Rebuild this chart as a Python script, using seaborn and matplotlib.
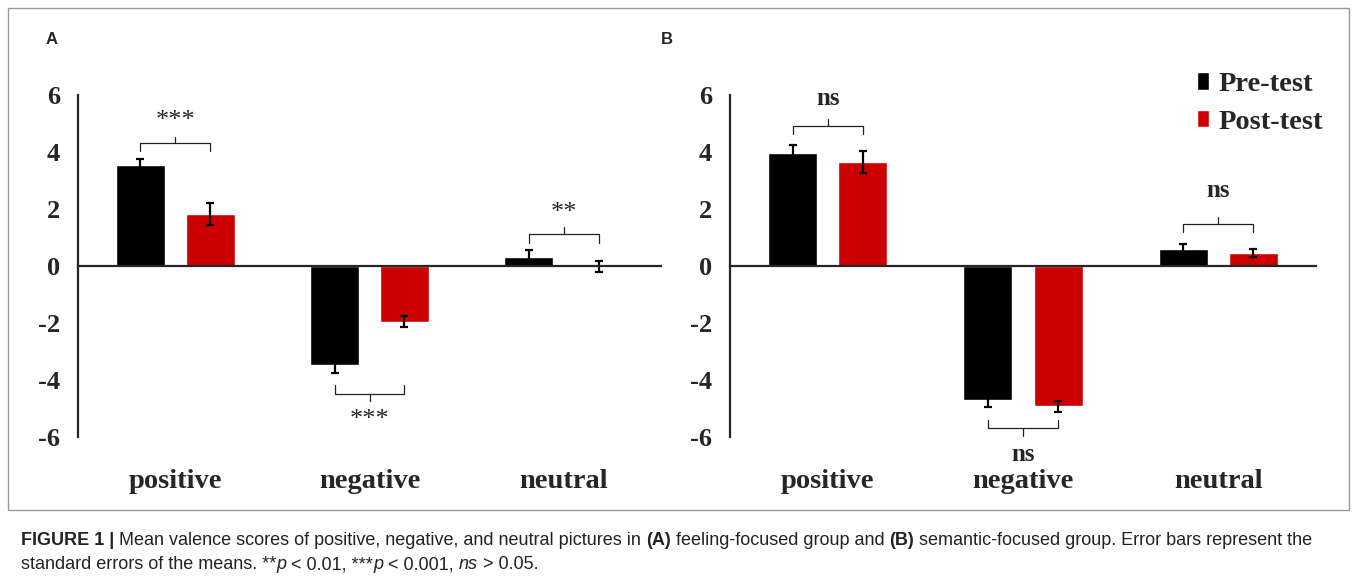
"""
Mean valence scores, pre/post test, two groups (feeling- vs semantic-focused)
"""
import pandas as pd
import matplotlib
matplotlib.use("Agg")
import matplotlib.pyplot as plt
from matplotlib.patches import Patch, Rectangle
import seaborn as sns

# Data
categories = ["positive", "negative", "neutral"]
phases = ["Pre-test", "Post-test"]
colors = ["#000000", "#cc0000"]

a_pre = [3.55, -3.48, 0.33]
a_post = [1.82, -1.96, -0.03]
a_pre_se = [0.22, 0.29, 0.23]
a_post_se = [0.38, 0.19, 0.19]

b_pre = [3.95, -4.71, 0.59]
b_post = [3.66, -4.92, 0.45]
b_pre_se = [0.29, 0.23, 0.17]
b_post_se = [0.38, 0.20, 0.15]

# significance brackets: (category index, bracket y, leg end y, tick end y, label y, label)
a_sig = [(0, 4.30, 4.04, 4.54, 5.10, "***"),
         (1, -4.48, -4.18, -4.75, -5.40, "***"),
         (2, 1.11, 0.82, 1.37, 1.87, "**")]
b_sig = [(0, 4.91, 4.63, 5.16, 5.86, "ns"),
         (1, -5.68, -5.39, -5.98, -6.62, "ns"),
         (2, 1.46, 1.20, 1.72, 2.64, "ns")]

W, H = 1357, 581
SERIF = "Liberation Serif"
SANS = "Liberation Sans"


def make_df(pre, post):
    rows = []
    for c, v in zip(categories, pre):
        rows.append({"cat": c, "phase": phases[0], "val": v})
    for c, v in zip(categories, post):
        rows.append({"cat": c, "phase": phases[1], "val": v})
    return pd.DataFrame(rows)


def draw_panel(ax, pre, post, pre_se, post_se, sig, sig_bold):
    df = make_df(pre, post)
    sns.barplot(data=df, x="cat", y="val", hue="phase", order=categories,
                hue_order=phases, palette=colors, width=0.72, gap=0.3,
                errorbar=None, legend=False, ax=ax, saturation=1, zorder=2)
    x_pre = [p.get_x() + p.get_width() / 2 for p in ax.containers[0]]
    x_post = [p.get_x() + p.get_width() / 2 for p in ax.containers[1]]
    ax.errorbar(x_pre, pre, yerr=pre_se, fmt="none", ecolor="black",
                elinewidth=1.6, capsize=3, capthick=1.6, zorder=3)
    ax.errorbar(x_post, post, yerr=post_se, fmt="none", ecolor="black",
                elinewidth=1.6, capsize=3, capthick=1.6, zorder=3)

    for i, yb, yleg, ytick, ylab, lab in sig:
        x0, x1 = x_pre[i], x_post[i]
        xm = (x0 + x1) / 2
        ax.plot([x0, x0, x1, x1], [yleg, yb, yb, yleg], color="#222222", lw=0.9, zorder=4)
        ax.plot([xm, xm], [yb, ytick], color="#222222", lw=0.9, zorder=4)
        ax.text(xm, ylab, lab, ha="center", va="center", family=SERIF,
                fontsize=18 if sig_bold else 19,
                fontweight="bold" if sig_bold else "normal", clip_on=False)

    ax.set_xlim(-0.5, 2.5)
    ax.set_ylim(-6, 6)
    ax.set_yticks([-6, -4, -2, 0, 2, 4, 6])
    ax.set_yticklabels(["-6", "-4", "-2", "0", "2", "4", "6"])
    ax.set_xticks([0.5, 1.5, 2.5])
    ax.set_xticklabels([])
    ax.set_xlabel("")
    ax.set_ylabel("")
    for lab in ax.get_yticklabels():
        lab.set_family(SERIF)
        lab.set_fontweight("bold")
        lab.set_fontsize(19)
    ax.tick_params(axis="y", direction="out", length=6, width=1.4, pad=7)
    ax.tick_params(axis="x", direction="out", length=7, width=1.4)
    ax.spines["top"].set_visible(False)
    ax.spines["right"].set_visible(False)
    ax.spines["bottom"].set_position(("data", 0))
    ax.spines["bottom"].set_linewidth(1.6)
    ax.spines["left"].set_linewidth(1.6)
    ax.spines["bottom"].set_zorder(5)
    for i, c in enumerate(categories):
        ax.text(i, -0.13, c, transform=ax.get_xaxis_transform(), ha="center",
                va="center", family=SERIF, fontweight="bold", fontsize=20.5)


def caption_line(fig, x, y, parts, size):
    renderer = fig.canvas.get_renderer()
    for txt, style in parts:
        kw = {"family": SANS, "fontsize": size, "color": "#222222", "va": "baseline"}
        if style == "b":
            kw["fontweight"] = "bold"
        elif style == "i":
            kw["fontstyle"] = "italic"
        t = fig.text(x / W, 1 - y / H, txt, **kw)
        bb = t.get_window_extent(renderer=renderer)
        x += bb.width


def main():
    sns.set_style("white")
    fig = plt.figure(figsize=(W / 100, H / 100), dpi=100)

    top = 1 - 95 / H
    bottom = 1 - 437 / H
    ax_a = fig.add_axes([78 / W, bottom, 583 / W, top - bottom])
    ax_b = fig.add_axes([730 / W, bottom, 586 / W, top - bottom])

    draw_panel(ax_a, a_pre, a_post, a_pre_se, a_post_se, a_sig, False)
    draw_panel(ax_b, b_pre, b_post, b_pre_se, b_post_se, b_sig, True)

    handles = [Patch(facecolor=colors[0]), Patch(facecolor=colors[1])]
    fig.legend(handles, phases, loc="upper right", bbox_to_anchor=(1323 / W, 1 - 72 / H),
               frameon=False, handlelength=0.4, handleheight=0.55, handletextpad=0.35,
               labelspacing=0.45, borderaxespad=0, borderpad=0,
               prop={"family": SERIF, "weight": "bold", "size": 20.5})

    fig.text(52 / W, 1 - 40 / H, "A", family=SANS, fontweight="bold", fontsize=12,
             va="center", ha="center")
    fig.text(667 / W, 1 - 40 / H, "B", family=SANS, fontweight="bold", fontsize=12,
             va="center", ha="center")

    fig.patches.append(Rectangle((8 / W, 1 - 510 / H), 1341 / W, 502 / H,
                                 transform=fig.transFigure, fill=False,
                                 edgecolor="#999999", lw=1.0))

    fig.canvas.draw()
    size = 13
    caption_line(fig, 21, 545, [
        ("FIGURE 1 | ", "b"),
        ("Mean valence scores of positive, negative, and neutral pictures in ", "n"),
        ("(A)", "b"), (" feeling-focused group and ", "n"), ("(B)", "b"),
        (" semantic-focused group. Error bars represent the", "n")], size)
    caption_line(fig, 21, 569, [
        ("standard errors of the means. **", "n"), ("p", "i"), (" < 0.01, ***", "n"),
        ("p", "i"), (" < 0.001, ", "n"), ("ns", "i"), (" > 0.05.", "n")], size)

    fig.savefig("out.png", dpi=100)


if __name__ == "__main__":
    main()
